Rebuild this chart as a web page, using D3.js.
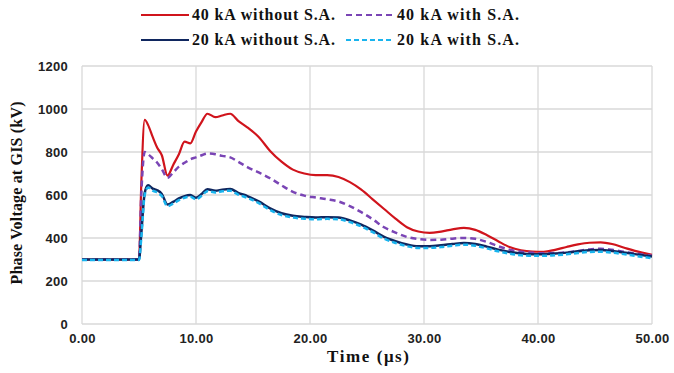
<!DOCTYPE html>
<html><head><meta charset="utf-8">
<script src="https://cdn.jsdelivr.net/npm/d3@7"></script>
<style>html,body{margin:0;padding:0;background:#fff;}svg{display:block;}</style>
</head><body>
<svg id="c" width="674" height="373"></svg>
<script>
const time = [0,5.0,5.2,5.5,5.8,6.2,6.6,7.0,7.5,8.0,8.5,9.0,9.5,10.0,10.5,11.0,11.7,12.3,13.0,13.7,14.5,15.5,16.5,17.5,18.5,19.5,20.5,21.5,22.5,23.5,24.5,25.5,26.5,27.5,28.5,29.5,30.5,31.5,32.5,33.5,34.5,35.5,36.5,37.5,38.5,39.5,40.5,41.5,42.5,43.5,44.5,45.5,46.5,47.5,48.5,50];
const v40noSA = [300,300,650,950,925,870,820,785,690,740,790,848,840,895,940,978,962,970,978,945,915,870,805,755,718,700,692,692,684,660,625,580,535,490,450,430,424,430,440,447,438,414,385,358,343,337,336,345,358,370,378,380,372,356,340,322];
const v40SA = [300,300,600,800,790,770,750,720,680,705,732,750,766,775,785,793,790,782,775,755,730,705,678,645,615,597,588,580,570,548,520,487,450,425,405,395,391,392,397,400,396,382,362,346,336,331,329,330,333,340,347,350,345,336,328,318];
const v20noSA = [300,300,420,610,645,630,622,605,556,568,584,595,600,587,605,627,620,625,628,610,595,570,538,515,503,498,495,497,495,482,462,435,405,385,370,362,362,366,372,377,372,360,346,335,328,325,325,328,332,338,343,344,340,333,325,314];
const v20SA = [298,298,400,600,635,620,612,595,548,560,576,587,592,580,597,618,612,617,620,602,587,562,530,507,495,490,487,489,487,474,454,427,397,377,362,354,354,358,364,369,364,352,338,327,320,317,317,320,324,330,335,336,332,325,317,306];
const seriesNames = ["40 kA without S.A.","40 kA with S.A.","20 kA without S.A.","20 kA with S.A."];
const xTicks = [0,10,20,30,40,50];
const yTicks = [0,200,400,600,800,1000,1200];

const svg = d3.select("#c");
const x = d3.scaleLinear().domain([0,50]).range([82,652]);
const y = d3.scaleLinear().domain([0,1200]).range([324,66]);
const grid = "#d9d9d9";

svg.append("g").selectAll("line").data(yTicks).join("line")
  .attr("x1",x(0)).attr("x2",x(50)).attr("y1",d=>y(d)).attr("y2",d=>y(d))
  .attr("stroke",grid).attr("stroke-width",1.3);
svg.append("g").selectAll("line").data(xTicks).join("line")
  .attr("x1",d=>x(d)).attr("x2",d=>x(d)).attr("y1",y(0)).attr("y2",y(1200))
  .attr("stroke",grid).attr("stroke-width",1.3);

const yAxis = svg.append("g").attr("transform",`translate(${x(0)},0)`)
  .call(d3.axisLeft(y).tickValues(yTicks).tickSize(0).tickPadding(14).tickFormat(d3.format("d")));
yAxis.select(".domain").remove();
yAxis.selectAll("text").attr("font-family","Liberation Sans, Arial, sans-serif")
  .attr("font-size",13).attr("font-weight","bold").attr("fill","#222").attr("letter-spacing","0.3");
const xAxis = svg.append("g").attr("transform",`translate(0,${y(0)})`)
  .call(d3.axisBottom(x).tickValues(xTicks).tickSize(0).tickPadding(10).tickFormat(d3.format(".2f")));
xAxis.select(".domain").remove();
xAxis.selectAll("text").attr("font-family","Liberation Sans, Arial, sans-serif")
  .attr("font-size",13).attr("font-weight","bold").attr("fill","#222").attr("letter-spacing","0.3");

const line = d3.line().x((d,i)=>x(time[i])).y(d=>y(d)).curve(d3.curveMonotoneX);
const styles = [
  {data:v40noSA, color:"#d0141c", w:2.2, dash:null},
  {data:v40SA, color:"#7a45b5", w:2.5, dash:"6,4"},
  {data:v20noSA, color:"#10275f", w:2.5, dash:null},
  {data:v20SA, color:"#19b4ee", w:2.5, dash:"5,3"}
];
styles.forEach(s=>{
  svg.append("path").attr("d",line(s.data)).attr("fill","none")
    .attr("stroke",s.color).attr("stroke-width",s.w)
    .attr("stroke-dasharray",s.dash).attr("stroke-linejoin","round");
});

const legPos = [[141,15,143],[346,15,122],[141,40,143],[346,40,122]];
styles.forEach((s,i)=>{
  const [lx,ly,tl] = legPos[i];
  svg.append("line").attr("x1",lx).attr("x2",lx+48).attr("y1",ly).attr("y2",ly)
    .attr("stroke",s.color).attr("stroke-width",2.2).attr("stroke-dasharray",s.dash);
  svg.append("text").attr("x",lx+51).attr("y",ly+5)
    .attr("font-family","Liberation Serif, Times New Roman, serif").attr("font-weight","bold")
    .attr("font-size",16).attr("fill","#111")
    .attr("textLength",tl).attr("lengthAdjust","spacing").text(seriesNames[i]);
});

svg.append("text").attr("x",368).attr("y",362).attr("text-anchor","middle")
  .attr("font-family","Liberation Serif, Times New Roman, serif").attr("font-weight","bold")
  .attr("font-size",17).attr("fill","#111").attr("textLength",82).attr("lengthAdjust","spacing")
  .text("Time (μs)");
svg.append("text").attr("transform","translate(22,193) rotate(-90)").attr("text-anchor","middle")
  .attr("font-family","Liberation Serif, Times New Roman, serif").attr("font-weight","bold")
  .attr("font-size",16).attr("fill","#111").attr("textLength",183).attr("lengthAdjust","spacing")
  .text("Phase Voltage at GIS (kV)");
</script>
</body></html>
